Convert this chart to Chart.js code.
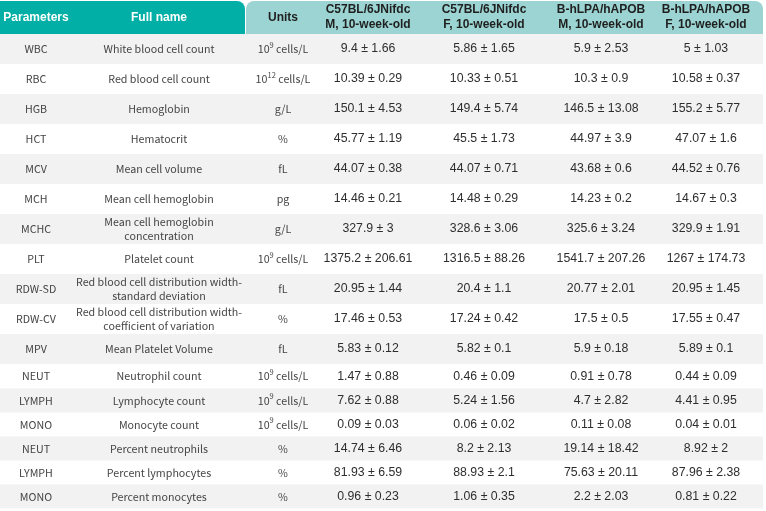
<!DOCTYPE html>
<html>
<head>
<meta charset="utf-8">
<script src="https://cdn.jsdelivr.net/npm/chart.js@4.4.1/dist/chart.umd.min.js"></script>
<style>
  html, body { margin: 0; padding: 0; background: #ffffff; }
  #wrap { width: 766px; height: 511px; }
</style>
</head>
<body>
<div id="wrap"><canvas id="table_chart" width="766" height="511"></canvas></div>
<script>
// ---- table data ----
const headers = ["Parameters", "Full name", "Units",
    "C57BL/6JNifdc\nM, 10-week-old", "C57BL/6JNifdc\nF, 10-week-old",
    "B-hLPA/hAPOB\nM, 10-week-old", "B-hLPA/hAPOB\nF, 10-week-old"];

const params = ["WBC", "RBC", "HGB", "HCT", "MCV", "MCH", "MCHC", "PLT", "RDW-SD", "RDW-CV",
    "MPV", "NEUT", "LYMPH", "MONO", "NEUT", "LYMPH", "MONO"];

const fullNames = ["White blood cell count", "Red blood cell count", "Hemoglobin", "Hematocrit",
    "Mean cell volume", "Mean cell hemoglobin", "Mean cell hemoglobin\nconcentration",
    "Platelet count", "Red blood cell distribution width-\nstandard deviation",
    "Red blood cell distribution width-\ncoefficient of variation", "Mean Platelet Volume",
    "Neutrophil count", "Lymphocyte count", "Monocyte count", "Percent neutrophils",
    "Percent lymphocytes", "Percent monocytes"];

const units = ["10^9 cells/L", "10^12 cells/L", "g/L", "%", "fL", "pg", "g/L", "10^9 cells/L",
    "fL", "%", "fL", "10^9 cells/L", "10^9 cells/L", "10^9 cells/L", "%", "%", "%"];

const c57M_mean = [9.4, 10.39, 150.1, 45.77, 44.07, 14.46, 327.9, 1375.2, 20.95, 17.46, 5.83, 1.47, 7.62, 0.09, 14.74, 81.93, 0.96];
const c57M_sd   = [1.66, 0.29, 4.53, 1.19, 0.38, 0.21, 3, 206.61, 1.44, 0.53, 0.12, 0.88, 0.88, 0.03, 6.46, 6.59, 0.23];
const c57F_mean = [5.86, 10.33, 149.4, 45.5, 44.07, 14.48, 328.6, 1316.5, 20.4, 17.24, 5.82, 0.46, 5.24, 0.06, 8.2, 88.93, 1.06];
const c57F_sd   = [1.65, 0.51, 5.74, 1.73, 0.71, 0.29, 3.06, 88.26, 1.1, 0.42, 0.1, 0.09, 1.56, 0.02, 2.13, 2.1, 0.35];
const hlpaM_mean = [5.9, 10.3, 146.5, 44.97, 43.68, 14.23, 325.6, 1541.7, 20.77, 17.5, 5.9, 0.91, 4.7, 0.11, 19.14, 75.63, 2.2];
const hlpaM_sd   = [2.53, 0.9, 13.08, 3.9, 0.6, 0.2, 3.24, 207.26, 2.01, 0.5, 0.18, 0.78, 2.82, 0.08, 18.42, 20.11, 2.03];
const hlpaF_mean = [5, 10.58, 155.2, 47.07, 44.52, 14.67, 329.9, 1267, 20.95, 17.55, 5.89, 0.44, 4.41, 0.04, 8.92, 87.96, 0.81];
const hlpaF_sd   = [1.03, 0.37, 5.77, 1.6, 0.76, 0.3, 1.91, 174.73, 1.45, 0.47, 0.1, 0.09, 0.95, 0.01, 2, 2.38, 0.22];

// ---- layout (scale units == canvas px) ----
const colCenters = [36, 159, 283, 368, 484, 601, 706];
const tableRight = 763;
const headSplit = 245;
const headerHeight = 34;
const rowHeights = [30, 30, 30, 30, 30, 30, 30, 30, 30, 30, 30, 24.5, 24, 24, 24, 24, 24];

const groupCols = [
    [c57M_mean, c57M_sd], [c57F_mean, c57F_sd],
    [hlpaM_mean, hlpaM_sd], [hlpaF_mean, hlpaF_sd]
];

const FONT_HEAD = 'bold 12px "Liberation Sans", Arial, sans-serif';
const FONT_LEFT = '10.7px "Noto Sans CJK SC", "Noto Sans", sans-serif';
const FONT_SUP  = '7.5px "Noto Sans CJK SC", "Noto Sans", sans-serif';
const FONT_VAL  = '12.3px "Liberation Sans", Arial, sans-serif';

function drawLines(ctx, text, x, y, lineH) {
    const lines = text.split("\n");
    const start = y - (lines.length - 1) * lineH / 2;
    lines.forEach((ln, k) => ctx.fillText(ln, x, start + k * lineH));
}

// unit text like "10^9 cells/L" -> base, raised exponent, rest
function drawUnit(ctx, text, x, y) {
    const m = text.match(/^(\d+)\^(\d+)(.*)$/);
    ctx.font = FONT_LEFT;
    if (!m) {
        ctx.textAlign = "center";
        ctx.fillText(text, x, y);
        return;
    }
    const wBase = ctx.measureText(m[1]).width;
    const wRest = ctx.measureText(m[3]).width;
    ctx.font = FONT_SUP;
    const wSup = ctx.measureText(m[2]).width;
    const left = x - (wBase + wSup + wRest) / 2;
    ctx.textAlign = "left";
    ctx.font = FONT_LEFT;
    ctx.fillText(m[1], left, y);
    ctx.font = FONT_SUP;
    ctx.fillText(m[2], left + wBase, y - 4);
    ctx.font = FONT_LEFT;
    ctx.fillText(m[3], left + wBase + wSup, y);
}

const tablePlugin = {
    id: "tableCells",
    afterDraw(chart) {
        const ctx = chart.ctx;
        const xs = chart.scales.x;
        const ys = chart.scales.y;
        const px = v => xs.getPixelForValue(v);
        const py = v => ys.getPixelForValue(v);

        ctx.save();
        ctx.fillStyle = "#ffffff";
        ctx.fillRect(px(0), py(0), px(766) - px(0), py(511) - py(0));

        // row backgrounds
        let top = headerHeight;
        const rowMid = [];
        rowHeights.forEach((h, i) => {
            if (i % 2 === 0) {
                ctx.fillStyle = "#f2f2f2";
                ctx.fillRect(px(0), py(top), px(tableRight) - px(0), py(top + h) - py(top));
            }
            rowMid.push(top + h / 2);
            top += h;
        });

        // header blocks
        ctx.fillStyle = "#02afa6";
        ctx.beginPath();
        ctx.roundRect(px(0), py(1), px(headSplit) - px(0), py(headerHeight) - py(1), [0, 8, 0, 0]);
        ctx.fill();
        ctx.fillStyle = "#9bd4d2";
        ctx.beginPath();
        ctx.roundRect(px(headSplit + 1), py(1), px(tableRight) - px(headSplit + 1), py(headerHeight) - py(1), [8, 8, 0, 0]);
        ctx.fill();

        // header texts
        ctx.textBaseline = "middle";
        ctx.textAlign = "center";
        ctx.font = FONT_HEAD;
        headers.forEach((h, c) => {
            ctx.fillStyle = c < 2 ? "#ffffff" : "#1f1f1f";
            drawLines(ctx, h, px(colCenters[c]), py(headerHeight / 2 + 0.5), 15);
        });

        // body cells
        rowMid.forEach((m, i) => {
            const y = py(m);
            ctx.fillStyle = "#444444";
            ctx.textAlign = "center";
            ctx.font = FONT_LEFT;
            ctx.fillText(params[i], px(colCenters[0]), y);
            drawLines(ctx, fullNames[i], px(colCenters[1]), y, 14.5);
            drawUnit(ctx, units[i], px(colCenters[2]), y);

            ctx.fillStyle = "#2e2e2e";
            ctx.textAlign = "center";
            ctx.font = FONT_VAL;
            groupCols.forEach((g, k) => {
                ctx.fillText(g[0][i] + " \u00b1 " + g[1][i], px(colCenters[3 + k]), y);
            });
        });
        ctx.restore();
    }
};

new Chart(document.getElementById("table_chart"), {
    type: "scatter",
    data: { datasets: [{ data: [] }] },
    options: {
        responsive: false,
        animation: false,
        events: [],
        layout: { padding: 0 },
        plugins: { legend: { display: false }, tooltip: { enabled: false } },
        scales: {
            x: { type: "linear", min: 0, max: 766, display: false },
            y: { type: "linear", min: 0, max: 511, reverse: true, display: false }
        }
    },
    plugins: [tablePlugin]
});
</script>
</body>
</html>
